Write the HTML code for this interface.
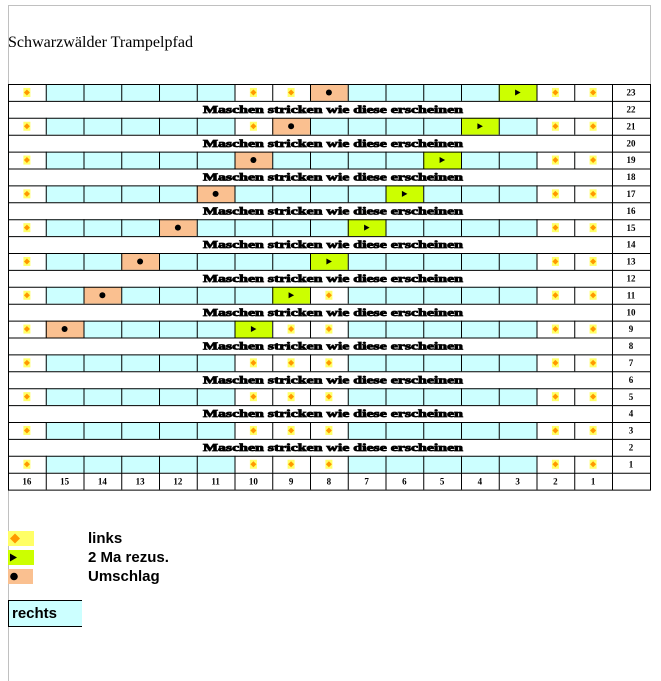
<!DOCTYPE html>
<html><head><meta charset="utf-8"><style>
html,body{margin:0;padding:0;background:#fff}
svg{display:block}
.l{font-family:"Liberation Serif",serif;font-weight:bold;font-size:11px;fill:#000;stroke:#000;stroke-width:0.8}
.n{font-family:"Liberation Serif",serif;font-weight:bold;font-size:9px;fill:#000}
.g{font-family:"Liberation Sans",sans-serif;font-weight:bold;font-size:15px;fill:#000}
</style></head><body>
<svg width="661" height="681" viewBox="0 0 661 681" xmlns="http://www.w3.org/2000/svg">
<defs>
<g id="D"><rect x="-18.9" y="-8.45" width="37.75" height="16.9" fill="#fff"/><rect x="-3.5" y="-4.5" width="7" height="9" fill="#ffff66"/><path d="M0,-3 L3,0 L0,3 L-3,0Z" fill="#ff9900"/></g>
<g id="G"><rect x="-18.9" y="-8.45" width="37.75" height="16.9" fill="#ccff00"/><path d="M-2.5,-3 L3,0 L-2.5,3Z" fill="#000"/></g>
<g id="O"><rect x="-18.9" y="-8.45" width="37.75" height="16.9" fill="#fac090"/><circle r="3" fill="#000"/></g>
<pattern id="p" patternUnits="userSpaceOnUse" x="8" y="0" width="37.75" height="16.9"><rect x="0" y="0" width="1" height="16.9" fill="#000"/></pattern>
</defs>
<path d="M8.5,681 V5.5 H650.5 V84" fill="none" stroke="#c0c0c0" stroke-width="1"/>
<text x="8" y="47" textLength="185" lengthAdjust="spacingAndGlyphs" style="font-family:'Liberation Serif',serif;font-size:16px">Schwarzwälder Trampelpfad</text>

<g fill="#ccffff">
<rect x="8" y="84" width="604" height="16.9"/>
<rect x="8" y="117.8" width="604" height="16.9"/>
<rect x="8" y="151.6" width="604" height="16.9"/>
<rect x="8" y="185.4" width="604" height="16.9"/>
<rect x="8" y="219.2" width="604" height="16.9"/>
<rect x="8" y="253" width="604" height="16.9"/>
<rect x="8" y="286.8" width="604" height="16.9"/>
<rect x="8" y="320.6" width="604" height="16.9"/>
<rect x="8" y="354.4" width="604" height="16.9"/>
<rect x="8" y="388.2" width="604" height="16.9"/>
<rect x="8" y="422" width="604" height="16.9"/>
<rect x="8" y="455.8" width="604" height="16.9"/>
</g>

<use href="#D" x="26.9" y="92.45"/><use href="#D" x="253.4" y="92.45"/><use href="#D" x="291.1" y="92.45"/><use href="#O" x="328.9" y="92.45"/><use href="#G" x="517.6" y="92.45"/><use href="#D" x="555.4" y="92.45"/><use href="#D" x="593.1" y="92.45"/>
<use href="#D" x="26.9" y="126.25"/><use href="#D" x="253.4" y="126.25"/><use href="#O" x="291.1" y="126.25"/><use href="#G" x="479.9" y="126.25"/><use href="#D" x="555.4" y="126.25"/><use href="#D" x="593.1" y="126.25"/>
<use href="#D" x="26.9" y="160.05"/><use href="#O" x="253.4" y="160.05"/><use href="#G" x="442.1" y="160.05"/><use href="#D" x="555.4" y="160.05"/><use href="#D" x="593.1" y="160.05"/>
<use href="#D" x="26.9" y="193.85"/><use href="#O" x="215.6" y="193.85"/><use href="#G" x="404.4" y="193.85"/><use href="#D" x="555.4" y="193.85"/><use href="#D" x="593.1" y="193.85"/>
<use href="#D" x="26.9" y="227.65"/><use href="#O" x="177.9" y="227.65"/><use href="#G" x="366.6" y="227.65"/><use href="#D" x="555.4" y="227.65"/><use href="#D" x="593.1" y="227.65"/>
<use href="#D" x="26.9" y="261.45"/><use href="#O" x="140.1" y="261.45"/><use href="#G" x="328.9" y="261.45"/><use href="#D" x="555.4" y="261.45"/><use href="#D" x="593.1" y="261.45"/>
<use href="#D" x="26.9" y="295.25"/><use href="#O" x="102.4" y="295.25"/><use href="#G" x="291.1" y="295.25"/><use href="#D" x="328.9" y="295.25"/><use href="#D" x="555.4" y="295.25"/><use href="#D" x="593.1" y="295.25"/>
<use href="#D" x="26.9" y="329.05"/><use href="#O" x="64.6" y="329.05"/><use href="#G" x="253.4" y="329.05"/><use href="#D" x="291.1" y="329.05"/><use href="#D" x="328.9" y="329.05"/><use href="#D" x="555.4" y="329.05"/><use href="#D" x="593.1" y="329.05"/>
<use href="#D" x="26.9" y="362.85"/><use href="#D" x="253.4" y="362.85"/><use href="#D" x="291.1" y="362.85"/><use href="#D" x="328.9" y="362.85"/><use href="#D" x="555.4" y="362.85"/><use href="#D" x="593.1" y="362.85"/>
<use href="#D" x="26.9" y="396.65"/><use href="#D" x="253.4" y="396.65"/><use href="#D" x="291.1" y="396.65"/><use href="#D" x="328.9" y="396.65"/><use href="#D" x="555.4" y="396.65"/><use href="#D" x="593.1" y="396.65"/>
<use href="#D" x="26.9" y="430.45"/><use href="#D" x="253.4" y="430.45"/><use href="#D" x="291.1" y="430.45"/><use href="#D" x="328.9" y="430.45"/><use href="#D" x="555.4" y="430.45"/><use href="#D" x="593.1" y="430.45"/>
<use href="#D" x="26.9" y="464.25"/><use href="#D" x="253.4" y="464.25"/><use href="#D" x="291.1" y="464.25"/><use href="#D" x="328.9" y="464.25"/><use href="#D" x="555.4" y="464.25"/><use href="#D" x="593.1" y="464.25"/>

<g fill="url(#p)">
<rect x="8" y="84" width="604" height="16.9"/>
<rect x="8" y="117.8" width="604" height="16.9"/>
<rect x="8" y="151.6" width="604" height="16.9"/>
<rect x="8" y="185.4" width="604" height="16.9"/>
<rect x="8" y="219.2" width="604" height="16.9"/>
<rect x="8" y="253" width="604" height="16.9"/>
<rect x="8" y="286.8" width="604" height="16.9"/>
<rect x="8" y="320.6" width="604" height="16.9"/>
<rect x="8" y="354.4" width="604" height="16.9"/>
<rect x="8" y="388.2" width="604" height="16.9"/>
<rect x="8" y="422" width="604" height="16.9"/>
<rect x="8" y="455.8" width="604" height="16.9"/>
<rect x="8" y="472.7" width="604" height="16.9"/>
</g>
<g stroke="#000" stroke-width="1">
<line x1="8.5" y1="84" x2="8.5" y2="490"/>
<line x1="612.5" y1="84" x2="612.5" y2="490"/>
<line x1="650.5" y1="84" x2="650.5" y2="490"/>
<path d="M8,84.5H651M8,101.4H651M8,118.3H651M8,135.2H651M8,152.1H651M8,169H651M8,185.9H651M8,202.8H651M8,219.7H651M8,236.6H651M8,253.5H651M8,270.4H651M8,287.3H651M8,304.2H651M8,321.1H651M8,338H651M8,354.9H651M8,371.8H651M8,388.7H651M8,405.6H651M8,422.5H651M8,439.4H651M8,456.3H651M8,473.2H651M8,490.1H651"/>
</g>

<g class="l" text-anchor="middle">
<text x="333" y="113" textLength="260" lengthAdjust="spacingAndGlyphs">Maschen stricken wie diese erscheinen</text>
<text x="333" y="146.8" textLength="260" lengthAdjust="spacingAndGlyphs">Maschen stricken wie diese erscheinen</text>
<text x="333" y="180.6" textLength="260" lengthAdjust="spacingAndGlyphs">Maschen stricken wie diese erscheinen</text>
<text x="333" y="214.4" textLength="260" lengthAdjust="spacingAndGlyphs">Maschen stricken wie diese erscheinen</text>
<text x="333" y="248.2" textLength="260" lengthAdjust="spacingAndGlyphs">Maschen stricken wie diese erscheinen</text>
<text x="333" y="282" textLength="260" lengthAdjust="spacingAndGlyphs">Maschen stricken wie diese erscheinen</text>
<text x="333" y="315.8" textLength="260" lengthAdjust="spacingAndGlyphs">Maschen stricken wie diese erscheinen</text>
<text x="333" y="349.6" textLength="260" lengthAdjust="spacingAndGlyphs">Maschen stricken wie diese erscheinen</text>
<text x="333" y="383.4" textLength="260" lengthAdjust="spacingAndGlyphs">Maschen stricken wie diese erscheinen</text>
<text x="333" y="417.2" textLength="260" lengthAdjust="spacingAndGlyphs">Maschen stricken wie diese erscheinen</text>
<text x="333" y="451" textLength="260" lengthAdjust="spacingAndGlyphs">Maschen stricken wie diese erscheinen</text>
</g>

<g class="n" text-anchor="middle">
<text x="631" y="95.6">23</text><text x="631" y="112.5">22</text><text x="631" y="129.4">21</text><text x="631" y="146.3">20</text><text x="631" y="163.2">19</text><text x="631" y="180.1">18</text><text x="631" y="197">17</text><text x="631" y="213.9">16</text><text x="631" y="230.8">15</text><text x="631" y="247.7">14</text><text x="631" y="264.6">13</text><text x="631" y="281.5">12</text><text x="631" y="298.4">11</text><text x="631" y="315.3">10</text><text x="631" y="332.2">9</text><text x="631" y="349.1">8</text><text x="631" y="366">7</text><text x="631" y="382.9">6</text><text x="631" y="399.8">5</text><text x="631" y="416.7">4</text><text x="631" y="433.6">3</text><text x="631" y="450.5">2</text><text x="631" y="467.4">1</text>
<text x="26.9" y="484.3">16</text><text x="64.6" y="484.3">15</text><text x="102.4" y="484.3">14</text><text x="140.1" y="484.3">13</text><text x="177.9" y="484.3">12</text><text x="215.6" y="484.3">11</text><text x="253.4" y="484.3">10</text><text x="291.1" y="484.3">9</text><text x="328.9" y="484.3">8</text><text x="366.6" y="484.3">7</text><text x="404.4" y="484.3">6</text><text x="442.1" y="484.3">5</text><text x="479.9" y="484.3">4</text><text x="517.6" y="484.3">3</text><text x="555.4" y="484.3">2</text><text x="593.1" y="484.3">1</text>
</g>

<rect x="8" y="531" width="26" height="15" fill="#ffff66"/><path d="M15,533.5 L20,538.5 L15,543.5 L10,538.5Z" fill="#ff9900"/>
<rect x="8" y="550" width="26" height="15" fill="#ccff00"/><path d="M10,553.5 L17,557.5 L10,561.5Z" fill="#000"/>
<rect x="8" y="569" width="25" height="15" fill="#fac090"/><circle cx="14" cy="576.5" r="3.8" fill="#000"/>
<text class="g" x="88" y="543">links</text>
<text class="g" x="88" y="562">2 Ma rezus.</text>
<text class="g" x="88" y="581">Umschlag</text>
<rect x="8" y="600" width="74" height="27" fill="#ccffff"/>
<path d="M82,600.5H8.5V626.5H82" fill="none" stroke="#000" stroke-width="1"/>
<text class="g" x="12" y="618">rechts</text>
</svg>
</body></html>
